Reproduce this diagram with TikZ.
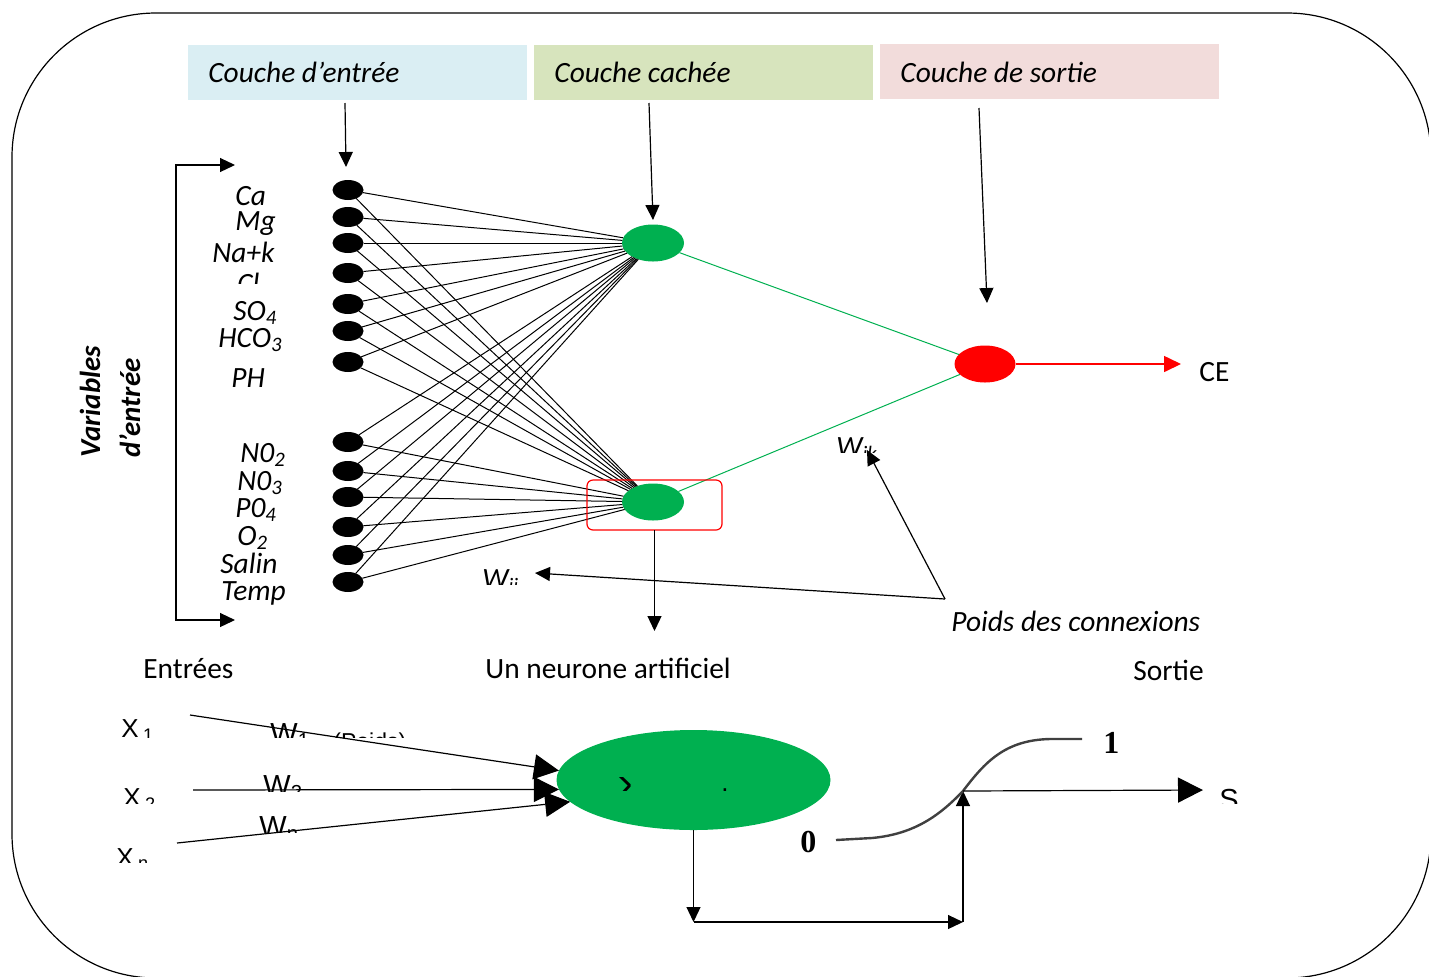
\documentclass[tikz,border=0pt]{standalone}
\usepackage{fontspec}
\setmainfont{Carlito}
\newfontfamily\arialf{Liberation Sans}
\newfontfamily\tnrf{Liberation Serif}
\usetikzlibrary{arrows.meta,shapes.geometric}
\definecolor{hblue}{RGB}{218,238,243}
\definecolor{hgreen}{RGB}{215,228,189}
\definecolor{hpink}{RGB}{242,220,219}
\definecolor{ngreen}{RGB}{0,176,80}
\definecolor{sgray}{RGB}{64,64,64}
\begin{document}
\begin{tikzpicture}[x=0.5pt,y=-0.5pt,
  hdr/.style={minimum width=169.5pt, minimum height=27.5pt, inner sep=0, outer sep=0},
  lbl/.style={font=\fontsize{14.7}{16}\selectfont\itshape, inner sep=0, anchor=base west},
  plain/.style={font=\fontsize{14.7}{16}\selectfont, inner sep=0, anchor=base west},
  arl/.style={font=\arialf\fontsize{13}{14}\selectfont, inner sep=0, anchor=base west},
  arw/.style={font=\arialf\fontsize{14.5}{16}\selectfont, inner sep=0, anchor=base west},
  digit/.style={font=\tnrf\bfseries\fontsize{16}{17}\selectfont, inner sep=0, anchor=base west},
  innode/.style={ellipse, fill=black, minimum width=15.5pt, minimum height=10pt, inner sep=0, outer sep=0},
  hidnode/.style={ellipse, fill=ngreen, minimum width=31pt, minimum height=18.5pt, inner sep=0, outer sep=0},
  conn/.style={line width=0.5pt, black},
  gconn/.style={line width=0.5pt, ngreen},
  arr/.style={line width=0.6pt, -{Triangle[length=7.5pt,width=7pt]}},
  bigarr/.style={line width=0.6pt, -{Triangle[length=12.5pt,width=12.5pt]}}
]
\useasboundingbox (0,0) rectangle (1429,976);

% outer frame
\draw[line width=0.6pt, rounded corners=72pt] (12,13) rectangle (1431,978);

% headers
\node[hdr, fill=hblue] (hA) at (357.5,72.5) {};
\node[hdr, fill=hgreen] (hB) at (703.5,72.5) {};
\node[hdr, fill=hpink] (hC) at (1049.5,71.5) {};
\node[lbl] (tA) at (208,82) {Couche d’entrée};
\node[lbl] (tB) at (554,82) {Couche cachée};
\node[lbl] (tC) at (900,82) {Couche de sortie};

\coordinate (a1s) at (345,103); \coordinate (a1e) at (346,167);
\coordinate (a2s) at (649,103); \coordinate (a2e) at (653,220);
\coordinate (a3s) at (979,108); \coordinate (a3e) at (987,303);
\draw[arr] (a1s) -- (a1e);
\draw[arr] (a2s) -- (a2e);
\draw[arr] (a3s) -- (a3e);

% bracket
\coordinate (bt) at (235,165); \coordinate (bc1) at (176,165);
\coordinate (bc2) at (176,620); \coordinate (bb) at (235,620);
\draw[line width=0.6pt, {Triangle[length=7.5pt,width=7pt]}-{Triangle[length=7.5pt,width=7pt]}] (bt) -- (bc1) -- (bc2) -- (bb);

% Variables d'entree
\node[font=\fontsize{14.5}{16}\selectfont\bfseries\itshape, inner sep=0, anchor=base west, rotate=90] (v1) at (100,458) {Variables};
\node[font=\fontsize{14.5}{16}\selectfont\bfseries\itshape, inner sep=0, anchor=base west, rotate=90] (v2) at (140,458) {d’entrée};

% input labels
\foreach \n/\x/\y/\t in {ca/235/205/Ca, mg/235/230/Mg, nak/212/262/Na+k, so/233/320/SO\textsubscript{4}, hco/218/347/HCO\textsubscript{3}, ph/231/387/PH, noa/240/462/N0\textsubscript{2}, nob/237/490/N0\textsubscript{3}, po/235/517/P0\textsubscript{4}, oo/237/545/O\textsubscript{2}, sal/220/573/Salin, tmp/221/600/Temp}
  \node[lbl] (l\n) at (\x,\y) {\t};
\begin{scope}
  \clip (200,260) rectangle (300,283);
  \node[lbl] (lcl) at (237,293) {Cl};
\end{scope}

% input nodes
\foreach \i/\y in {1/190,2/217,3/243,4/273,5/304,6/331,7/362,8/442,9/471,10/497,11/527,12/555,13/582}
  \node[innode] (in\i) at (348,\y) {};

% hidden and output
\node[hidnode] (h1) at (653,243) {};
\node[hidnode] (h2) at (653,502) {};
\node[ellipse, fill=red, minimum width=30.5pt, minimum height=18.5pt, inner sep=0, outer sep=0] (out) at (985,364) {};

\foreach \i in {1,...,13} {
  \draw[conn] (in\i) -- (h1);
  \draw[conn] (in\i) -- (h2);
}
\draw[gconn] (h1) -- (out);
\draw[gconn] (h2) -- (out);

\coordinate (ceTip) at (1181,364);
\draw[red, line width=0.8pt, -{Triangle[length=8.5pt,width=8pt]}] (out) -- (ceTip);
\node[plain] (ce) at (1199,381) {CE};

% red box
\node[draw=red, line width=0.6pt, rounded corners=3pt, minimum width=67.5pt, minimum height=25pt, inner sep=0, outer sep=0] (rbox) at (654.5,505) {};
\coordinate (nt) at (654.5,631);
\draw[arr] (rbox.south) -- (nt);

% weights
\begin{scope}
  \clip (820,425) rectangle (900,452);
  \node[lbl] (wjk) at (836,456) {W\textsubscript{jk}};
\end{scope}
\begin{scope}
  \clip (470,555) rectangle (530,584);
  \node[lbl] (wij) at (482,588) {W\textsubscript{ij}};
\end{scope}
\begin{scope}
  \clip (940,600) rectangle (1225,630);
  \node[lbl] (poids) at (951,631) {Poids des connexions};
\end{scope}
\coordinate (pd) at (945,599);
\coordinate (wjkTip) at (867,450);
\coordinate (wijTip) at (535,573);
\draw[arr] (pd) -- (wjkTip);
\draw[arr] (pd) -- (wijTip);

% captions
\node[plain] (entrees) at (143,678) {Entrées};
\node[plain] (neur) at (485,678) {Un neurone artificiel};
\node[plain] (sortie) at (1133,680) {Sortie};

% artificial neuron
\node[ellipse, fill=ngreen, minimum width=137pt, minimum height=50pt, inner sep=0, outer sep=0] (neu) at (693.5,780) {};
\begin{scope}
  \clip (610,777) rectangle (640,790);
  \node[font=\arialf\fontsize{20}{20}\selectfont, inner sep=0, anchor=base west] (sum) at (615,800) {Σ};
\end{scope}
\begin{scope}
  \clip (715,780) rectangle (730,791);
  \node[arl] (dotf) at (721,791) {.};
\end{scope}

\begin{scope}
  \clip (110,700) rectangle (175,737);
  \node[arl] (x1) at (121,737) {X\,\textsubscript{1}};
\end{scope}
\begin{scope}
  \clip (110,770) rectangle (175,803);
  \node[arl] (x2) at (123,806) {X\,\textsubscript{2}};
\end{scope}
\begin{scope}
  \clip (105,830) rectangle (175,862);
  \node[arl] (xn) at (116,866) {X\,\textsubscript{n}};
\end{scope}
\begin{scope}
  \clip (255,700) rectangle (320,737);
  \node[arw] (w1) at (270,743) {W\textsubscript{1}};
\end{scope}
\begin{scope}
  \clip (320,700) rectangle (420,737);
  \node[font=\arialf\fontsize{11.5}{13}\selectfont, inner sep=0, anchor=base west] (wp) at (333,749) {(Poids)};
\end{scope}
\begin{scope}
  \clip (250,760) rectangle (320,791);
  \node[arw] (w2) at (263,795) {W\textsubscript{2}};
\end{scope}
\begin{scope}
  \clip (245,800) rectangle (320,832);
  \node[arw] (w3) at (259,836) {W\textsubscript{n}};
\end{scope}

\coordinate (x1s) at (190,715);
\coordinate (x2s) at (193,790);
\coordinate (xns) at (177,843);
\draw[bigarr] (x1s) -- (neu.176.7);
\draw[bigarr] (x2s) -- (neu.184.3);
\draw[bigarr] (xns) -- (neu.190);

% feedback path
\coordinate (fb1) at (693.5,922);
\coordinate (fb2) at (963,922);
\coordinate (sig) at (963,791);
\draw[arr] (neu.south) -- (fb1);
\draw[arr] (fb1) -- (fb2);
\draw[arr] (fb2) -- (sig);

% sigmoid
\node[digit] (zero) at (800,852) {0};
\node[digit] (one) at (1103,753) {1};
\coordinate (c0) at (836,840);
\coordinate (c1) at (1082,739);
\draw[sgray, line width=1.2pt] (c0) -- (872,838) .. controls (915,834) and (940,815) .. (sig) .. controls (985,762) and (1005,740) .. (1050,739) -- (c1);

\coordinate (so) at (1203,790);
\draw[bigarr] (sig) -- (so);
\begin{scope}
  \clip (1210,770) rectangle (1260,803);
  \node[arw] (s) at (1219,809) {S};
\end{scope}
\end{tikzpicture}
\end{document}
